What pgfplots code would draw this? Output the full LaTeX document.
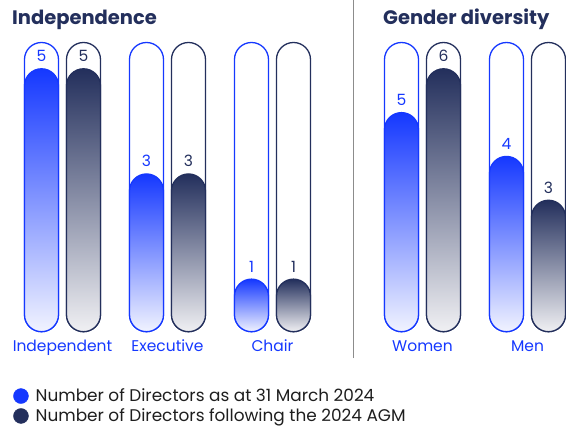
\documentclass[border=0pt]{standalone}
\usepackage{pgfplots}
\pgfplotsset{compat=1.18}
\usepackage{fontspec}
\setmainfont{Poppins}
\definecolor{bl}{HTML}{1538FF}
\definecolor{nv}{HTML}{232F5C}
\definecolor{blpale}{HTML}{F1F3FF}
\definecolor{nvpale}{HTML}{F0F0F3}
\definecolor{txt}{HTML}{1E1E1E}
\definecolor{sepc}{HTML}{8C8C8C}
\newcommand{\lblfont}{\fontsize{15.5}{18}\selectfont}
\begin{document}
\begin{tikzpicture}
\useasboundingbox (0,0) rectangle (566pt,430pt);
\pgfplotsset{
  capsule/.style={ybar, bar width=34pt, bar shift=0pt, rounded corners=17pt, line width=1.3pt, forget plot},
  bfill/.style={capsule, draw=bl, top color=bl, bottom color=blpale, nodes near coords,
    nodes near coords style={font=\lblfont, text=bl, yshift=3pt}},
  nfill/.style={capsule, draw=nv, top color=nv, bottom color=nvpale, nodes near coords,
    nodes near coords style={font=\lblfont, text=nv, yshift=3pt}},
  panel/.style={scale only axis, clip=false, anchor=south west, height=289.2pt, ymin=0,
     axis line style={draw=none}, major tick length=0pt, ytick=\empty,
     /pgf/number format/assume math mode=true,
     xticklabel style={font=\lblfont, text=bl, anchor=base, yshift=-20.3pt}},
}
\begin{axis}[panel, at={(0pt,98.3pt)}, width=353pt, xmin=-0.988, xmax=7.417, ymax=5.5,
  xtick={0.5,3,5.5}, xticklabels={Independent,Executive,Chair},
  legend style={at={(axis description cs:0.037,-0.19)}, anchor=north west, draw=none, fill=none,
    font=\fontsize{16.9}{19}\selectfont, text=txt, row sep=1.5pt, inner sep=0pt},
  legend cell align=left]
\addplot[capsule, draw=bl, fill=white] coordinates {(0,5.5) (2.5,5.5) (5,5.5)};
\addplot[capsule, draw=nv, fill=white] coordinates {(1,5.5) (3.5,5.5) (6,5.5)};
\addplot[bfill] coordinates {(0,5)};
\addplot[bfill] coordinates {(2.5,3)};
\addplot[bfill] coordinates {(5,1)};
\addplot[nfill] coordinates {(1,5)};
\addplot[nfill] coordinates {(3.5,3)};
\addplot[nfill] coordinates {(6,1)};
\addlegendimage{legend image code/.code={\fill[bl] (7.5pt,0pt) circle (7.5pt); \path (20pt,0pt);}}
\addlegendentry{Number of Directors as at 31 March 2024}
\addlegendimage{legend image code/.code={\fill[nv] (7.5pt,0pt) circle (7.5pt); \path (20pt,0pt);}}
\addlegendentry{Number of Directors following the 2024 AGM}
\end{axis}
\begin{axis}[panel, at={(353pt,98.3pt)}, width=213pt, xmin=-1.155, xmax=3.917, ymax=6.6,
  xtick={0.5,3}, xticklabels={Women,Men}]
\addplot[capsule, draw=bl, fill=white] coordinates {(0,6.6) (2.5,6.6)};
\addplot[capsule, draw=nv, fill=white] coordinates {(1,6.6) (3.5,6.6)};
\addplot[bfill] coordinates {(0,5)};
\addplot[bfill] coordinates {(2.5,4)};
\addplot[nfill] coordinates {(1,6)};
\addplot[nfill] coordinates {(3.5,3)};
\draw[sepc, line width=1pt] (axis description cs:0,-0.091) -- (axis description cs:0,1.147);
\end{axis}
\node[anchor=base west, inner sep=0pt, text=nv, font=\fontsize{19.5}{22}\selectfont\bfseries] at (12pt,405.7pt) {Independence};
\node[anchor=base west, inner sep=0pt, text=nv, font=\fontsize{19.5}{22}\selectfont\bfseries] at (383pt,405.7pt) {Gender diversity};
\end{tikzpicture}
\end{document}
